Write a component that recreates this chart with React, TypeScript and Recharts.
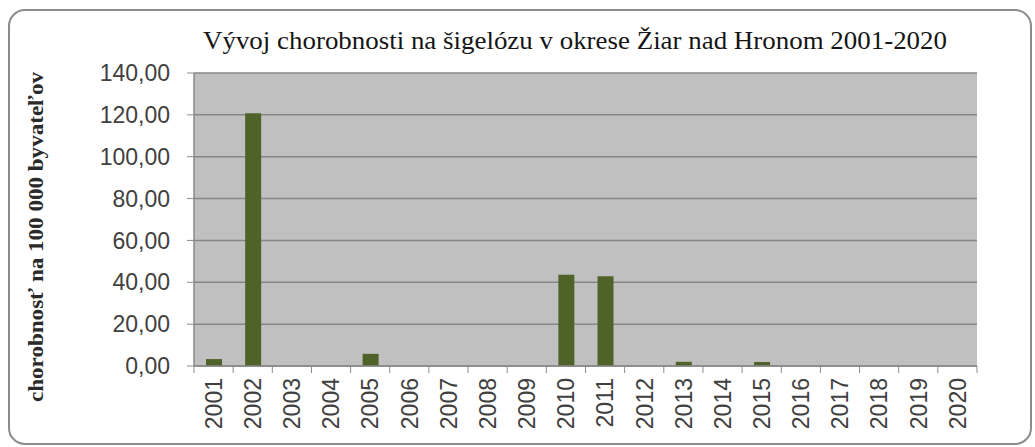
import { BarChart, Bar, XAxis, YAxis, CartesianGrid } from "recharts";

const years = [
  "2001", "2002", "2003", "2004", "2005", "2006", "2007", "2008", "2009", "2010",
  "2011", "2012", "2013", "2014", "2015", "2016", "2017", "2018", "2019", "2020",
];
const incidence = [
  3.3, 120.8, 0, 0, 5.8, 0, 0, 0, 0, 43.6,
  42.9, 0, 2.0, 0, 1.9, 0, 0, 0, 0, 0,
];
const yTicks = [0, 20, 40, 60, 80, 100, 120, 140];

const title = "Vývoj chorobnosti na šigelózu v okrese Žiar nad Hronom 2001-2020";
const yTitle = "chorobnosť na 100 000 byvateľov";

const data = years.map((year, i) => ({ year, value: incidence[i] }));

const W = 1035;
const H = 447;
const axisColor = "#8a8a8a";
const bandHalf = (977 - 194) / years.length / 2;

const fmt = (v: number) => v.toFixed(2).replace(".", ",");

const XTick = (props: any) => {
  const { x, y, payload, index } = props;
  const off = payload?.offset || bandHalf;
  return (
    <g transform={`translate(${x},${y})`}>
      <line x1={-off} y1={0} x2={-off} y2={7} stroke={axisColor} />
      {index === years.length - 1 && (
        <line x1={off} y1={0} x2={off} y2={7} stroke={axisColor} />
      )}
      <text
        transform="rotate(-90)"
        x={-12}
        y={0}
        dy="0.36em"
        textAnchor="end"
        fontFamily="'Liberation Sans', Arial, sans-serif"
        fontSize={23}
        fill="#404040"
      >
        {payload.value}
      </text>
    </g>
  );
};

export default function App() {
  return (
    <div style={{ position: "absolute", left: 0, top: 0, width: W, height: H, background: "#fff" }}>
      <svg width={W} height={H} style={{ position: "absolute", left: 0, top: 0 }}>
        <rect x={9} y={10} width={1022} height={434} rx={16} fill="#fff" stroke="#8c8c8c" strokeWidth={2} />
        <text
          x={575}
          y={49}
          textAnchor="middle"
          textLength={744}
          lengthAdjust="spacingAndGlyphs"
          fontFamily="'Liberation Serif', 'Times New Roman', serif"
          fontSize={26}
          fill="#151515"
        >
          {title}
        </text>
        <text
          transform="translate(36,237) rotate(-90)"
          textAnchor="middle"
          dy="0.35em"
          textLength={330}
          lengthAdjust="spacingAndGlyphs"
          fontFamily="'Liberation Serif', 'Times New Roman', serif"
          fontSize={20}
          fontWeight="bold"
          fill="#2a2a2a"
        >
          {yTitle}
        </text>
      </svg>
      <div style={{ position: "absolute", left: 0, top: 0 }}>
        <BarChart
          width={W}
          height={H}
          data={data}
          margin={{ top: 73, right: 58, bottom: 0, left: 0 }}
        >
          <CartesianGrid
            vertical={false}
            fill="#c0c0c0"
            stroke="#868686"
            strokeWidth={1.5}
          />
          <XAxis
            dataKey="year"
            height={81}
            interval={0}
            tickSize={0}
            tickMargin={0}
            tickLine={false}
            tick={<XTick />}
            axisLine={{ stroke: axisColor, strokeWidth: 1.5 }}
          />
          <YAxis
            width={194}
            domain={[0, 140]}
            ticks={yTicks}
            interval={0}
            tickFormatter={fmt}
            tickSize={7}
            tickMargin={17}
            tickLine={{ stroke: axisColor }}
            axisLine={{ stroke: axisColor, strokeWidth: 1.5 }}
            tick={{ fontFamily: "'Liberation Sans', Arial, sans-serif", fontSize: 23, fill: "#404040" }}
          />
          <Bar dataKey="value" fill="#4f6228" barSize={16} isAnimationActive={false} />
        </BarChart>
      </div>
    </div>
  );
}
